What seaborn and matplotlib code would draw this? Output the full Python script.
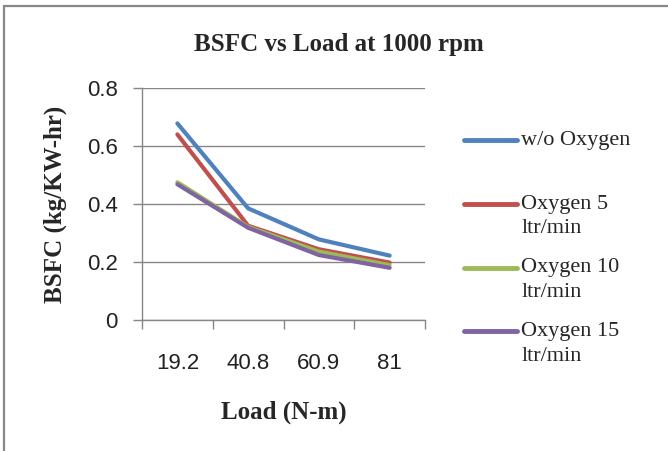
import matplotlib
matplotlib.use("Agg")
import matplotlib.pyplot as plt
import seaborn as sns
import pandas as pd
from matplotlib.lines import Line2D
from matplotlib.ticker import FixedLocator

loads = ["19.2", "40.8", "60.9", "81"]
series_names = ["w/o Oxygen\n ", "Oxygen 5\nltr/min", "Oxygen 10\nltr/min", "Oxygen 15\nltr/min"]
wo_oxygen = [0.678, 0.385, 0.278, 0.222]
oxygen_5 = [0.640, 0.325, 0.244, 0.198]
oxygen_10 = [0.475, 0.321, 0.236, 0.189]
oxygen_15 = [0.468, 0.318, 0.224, 0.180]
colors = ["#4F81BD", "#C0504D", "#9BBB59", "#8064A2"]

rows = []
for name, vals in zip(series_names, [wo_oxygen, oxygen_5, oxygen_10, oxygen_15]):
    for l, v in zip(loads, vals):
        rows.append({"Load": l, "BSFC": v, "Series": name})
df = pd.DataFrame(rows)

sns.set_style("white")
plt.rcParams["font.family"] = ["Liberation Sans", "DejaVu Sans"]

fig = plt.figure(figsize=(6.68, 4.51), dpi=100)
ax = fig.add_axes([142/668, 1-320/451, (425-142)/668, (320-88)/451])

sns.lineplot(data=df, x="Load", y="BSFC", hue="Series", palette=colors,
             linewidth=3, sort=False, ax=ax, legend=True)

ax.set_xlim(-0.5, 3.5)
ax.set_ylim(0, 0.8)
ax.set_yticks([0, 0.2, 0.4, 0.6, 0.8])
ax.set_yticklabels(["0", "0.2", "0.4", "0.6", "0.8"])
ax.yaxis.grid(True, color="#868686", linewidth=1)
ax.set_axisbelow(True)
for s in ["top", "right"]:
    ax.spines[s].set_visible(False)
for s in ["left", "bottom"]:
    ax.spines[s].set_color("#868686")
    ax.spines[s].set_linewidth(1)

ax.set_xticks(range(len(loads)))
ax.set_xticklabels(loads)
ax.xaxis.set_minor_locator(FixedLocator([-0.5, 0.5, 1.5, 2.5, 3.5]))
ax.tick_params(axis="x", which="both", bottom=True)
ax.tick_params(axis="y", which="both", left=True)
ax.tick_params(axis="x", which="major", length=0, pad=24, labelsize=16, labelcolor="#222222")
ax.tick_params(axis="x", which="minor", length=6.5, width=1, color="#868686", direction="out")
ax.tick_params(axis="y", length=6.5, width=1, color="#868686", direction="out", pad=11,
               labelsize=16, labelcolor="#222222")

serif = ["Liberation Serif", "DejaVu Serif"]
ax.set_xlabel("Load (N-m)", fontsize=18, fontweight="bold", family=serif, labelpad=19)
ax.set_ylabel("BSFC (kg/KW-hr)", fontsize=18, fontweight="bold", family=serif, labelpad=14)
fig.text(339/668, 1-45/451, "BSFC vs Load at 1000 rpm", ha="center", va="center",
         fontsize=18, fontweight="bold", family=serif)

handles, labels = ax.get_legend_handles_labels()
leg = ax.legend(handles, labels, loc="upper left", bbox_to_anchor=(1.066, 0.90),
                frameon=False, prop={"family": serif, "size": 16},
                handlelength=2.4, handleheight=1.15, handletextpad=0.2, labelspacing=0.9)
for line in leg.get_lines():
    line.set_linewidth(3.5)
for t in leg.get_texts():
    t.set_linespacing(1.4)
for vp in leg._legend_handle_box.get_children():
    for hp in vp.get_children():
        hp.align = "top"

fig.add_artist(Line2D([4/668, 4/668], [0, 1-6/451], transform=fig.transFigure,
                      color="#888888", linewidth=1.6))
fig.add_artist(Line2D([4/668, 1], [1-6/451, 1-6/451], transform=fig.transFigure,
                      color="#888888", linewidth=1.6))

fig.savefig("out.png", dpi=100)
